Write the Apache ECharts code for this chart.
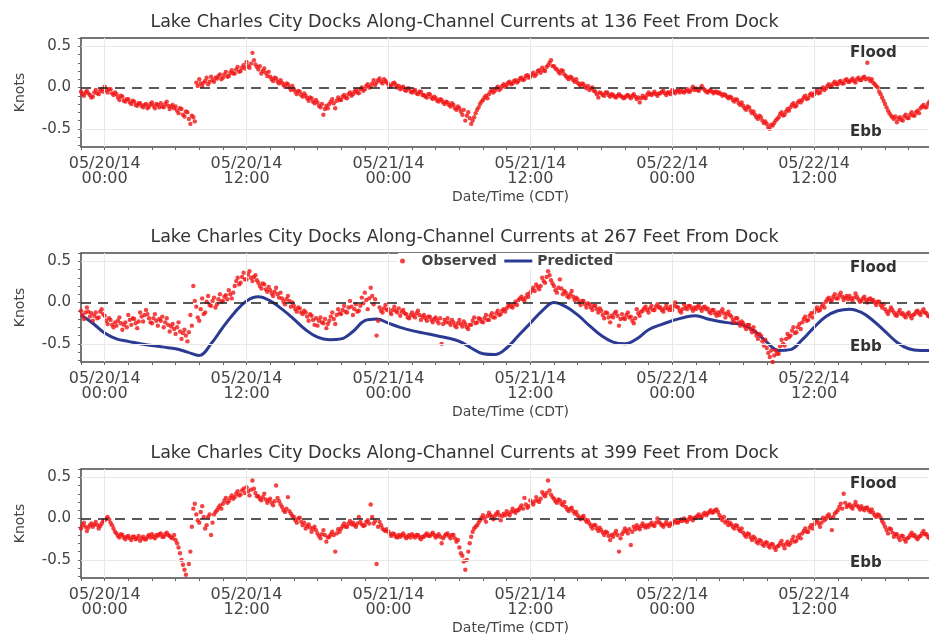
<!DOCTYPE html>
<html><head><meta charset="utf-8">
<script src="https://cdn.jsdelivr.net/npm/echarts@6/dist/echarts.min.js"></script>
<style>html,body{margin:0;padding:0;background:#fff}#c{width:929px;height:644px}</style>
</head><body><div id="c"></div>
<script>
// Panel titles
const titles = [
  'Lake Charles City Docks Along-Channel Currents at 136 Feet From Dock',
  'Lake Charles City Docks Along-Channel Currents at 267 Feet From Dock',
  'Lake Charles City Docks Along-Channel Currents at 399 Feet From Dock'
];
// X tick positions (hours from 05/20/14 00:00 CDT) and their labels
const tickHours = [0, 12, 24, 36, 48, 60];
const tickLabels = ['05/20/14\n00:00', '05/20/14\n12:00', '05/21/14\n00:00', '05/21/14\n12:00', '05/22/14\n00:00', '05/22/14\n12:00'];
const yTickValues = [-0.5, 0.0, 0.5];
const yTickLabels = ['-0.5', '0.0', '0.5'];
// Observations: 7.5-minute samples starting at 05/19/14 22:00 (hour -2), one row per hour
const obsStartHour = -2;
const obsStepHour = 0.125;
const obs136 = [
 -0.05,-0.08,-0.10,-0.06,-0.04,-0.07,-0.09,-0.12,
 -0.11,-0.06,-0.03,-0.07,-0.08,-0.04,-0.02,-0.05,
 0.01,-0.03,-0.06,-0.02,-0.02,-0.07,-0.09,-0.06,
 -0.08,-0.12,-0.15,-0.10,-0.11,-0.16,-0.17,-0.14,
 -0.14,-0.18,-0.20,-0.16,-0.17,-0.21,-0.22,-0.19,
 -0.19,-0.22,-0.24,-0.21,-0.20,-0.25,-0.23,-0.20,
 -0.18,-0.22,-0.25,-0.20,-0.21,-0.24,-0.19,-0.23,
 -0.24,-0.20,-0.17,-0.22,-0.26,-0.23,-0.21,-0.25,
 -0.23,-0.28,-0.31,-0.25,-0.26,-0.33,-0.35,-0.29,
 -0.30,-0.38,-0.44,-0.34,-0.36,-0.41,0.06,0.02,
 0.10,0.05,0.02,0.06,0.08,0.12,0.04,0.07,
 0.13,0.09,0.07,0.12,0.11,0.14,0.16,0.10,
 0.12,0.16,0.19,0.13,0.14,0.18,0.21,0.17,
 0.17,0.22,0.25,0.19,0.20,0.24,0.27,0.23,
 0.31,0.26,0.24,0.29,0.42,0.33,0.28,0.25,
 0.22,0.26,0.17,0.20,0.23,0.18,0.14,0.19,
 0.13,0.10,0.08,0.12,0.11,0.07,0.05,0.09,
 0.06,0.03,0.01,0.05,0.04,0.00,-0.03,0.02,
 -0.02,-0.05,-0.08,-0.04,-0.05,-0.09,-0.11,-0.07,
 -0.10,-0.13,-0.16,-0.12,-0.13,-0.17,-0.19,-0.15,
 -0.18,-0.22,-0.24,-0.20,-0.33,-0.26,-0.22,-0.25,
 -0.20,-0.17,-0.14,-0.19,-0.25,-0.16,-0.12,-0.15,
 -0.15,-0.11,-0.09,-0.12,-0.13,-0.08,-0.06,-0.10,
 -0.08,-0.05,-0.03,-0.06,-0.07,-0.02,0.00,-0.04,
 -0.02,0.02,0.04,0.00,0.01,0.05,0.09,0.03,
 0.06,0.09,0.11,0.07,0.05,0.10,0.08,0.06,
 0.04,0.01,0.02,0.05,0.06,0.03,0.00,0.02,
 -0.02,0.00,0.01,-0.03,-0.04,-0.01,-0.01,-0.05,
 -0.06,-0.04,-0.03,-0.07,-0.08,-0.05,-0.05,-0.09,
 -0.09,-0.11,-0.12,-0.08,-0.08,-0.12,-0.14,-0.11,
 -0.13,-0.16,-0.17,-0.14,-0.15,-0.18,-0.20,-0.17,
 -0.18,-0.21,-0.23,-0.19,-0.21,-0.25,-0.27,-0.23,
 -0.25,-0.29,-0.33,-0.27,-0.40,-0.34,-0.30,-0.37,
 -0.44,-0.40,-0.36,-0.31,-0.27,-0.24,-0.20,-0.17,
 -0.15,-0.12,-0.10,-0.13,-0.08,-0.05,-0.03,-0.06,
 -0.04,-0.01,0.01,-0.03,-0.01,0.02,0.04,0.01,
 0.03,0.06,0.07,0.04,0.05,0.08,0.09,0.06,
 0.08,0.11,0.12,0.09,0.10,0.14,0.15,0.12,
 0.13,0.16,0.18,0.14,0.16,0.20,0.21,0.18,
 0.24,0.21,0.20,0.25,0.27,0.30,0.33,0.26,
 0.26,0.23,0.22,0.19,0.17,0.21,0.20,0.16,
 0.14,0.12,0.10,0.13,0.12,0.09,0.07,0.10,
 0.06,0.04,0.02,0.05,0.04,0.01,-0.01,0.02,
 -0.03,-0.01,0.00,-0.04,-0.05,-0.08,-0.12,-0.06,
 -0.07,-0.09,-0.10,-0.06,-0.06,-0.09,-0.11,-0.08,
 -0.09,-0.11,-0.12,-0.10,-0.08,-0.10,-0.11,-0.13,
 -0.12,-0.10,-0.09,-0.11,-0.13,-0.10,-0.08,-0.11,
 -0.14,-0.12,-0.18,-0.13,-0.10,-0.12,-0.13,-0.09,
 -0.06,-0.08,-0.09,-0.07,-0.05,-0.08,-0.10,-0.07,
 -0.07,-0.05,-0.04,-0.07,-0.09,-0.06,-0.06,-0.08,
 -0.03,-0.05,-0.07,-0.04,-0.04,-0.06,-0.02,-0.05,
 -0.06,-0.04,-0.02,-0.05,-0.05,-0.02,0.01,-0.03,
 -0.01,-0.03,-0.04,-0.01,0.02,-0.01,-0.03,-0.05,
 -0.06,-0.04,-0.03,-0.05,-0.07,-0.05,-0.05,-0.07,
 -0.06,-0.08,-0.10,-0.08,-0.09,-0.11,-0.13,-0.11,
 -0.12,-0.15,-0.17,-0.14,-0.15,-0.19,-0.21,-0.18,
 -0.22,-0.25,-0.27,-0.23,-0.24,-0.28,-0.31,-0.29,
 -0.33,-0.36,-0.38,-0.34,-0.36,-0.40,-0.43,-0.41,
 -0.44,-0.48,-0.50,-0.45,-0.46,-0.43,-0.40,-0.38,
 -0.36,-0.32,-0.30,-0.34,-0.33,-0.29,-0.26,-0.28,
 -0.24,-0.21,-0.19,-0.23,-0.22,-0.18,-0.16,-0.18,
 -0.15,-0.12,-0.10,-0.14,-0.13,-0.09,-0.07,-0.10,
 -0.08,-0.05,-0.03,-0.07,-0.06,-0.02,0.00,-0.03,
 -0.01,0.02,0.04,0.01,0.02,0.05,0.07,0.04,
 0.04,0.07,0.08,0.05,0.05,0.09,0.10,0.07,
 0.07,0.09,0.11,0.08,0.06,0.10,0.12,0.09,
 0.09,0.12,0.13,0.10,0.30,0.11,0.08,0.10,
 0.06,0.04,0.02,0.00,-0.05,-0.08,-0.12,-0.16,
 -0.20,-0.24,-0.28,-0.31,-0.34,-0.36,-0.38,-0.35,
 -0.42,-0.38,-0.36,-0.39,-0.40,-0.35,-0.33,-0.37,
 -0.37,-0.33,-0.30,-0.34,-0.34,-0.30,-0.28,-0.31,
 -0.25,-0.23,-0.21,-0.24,-0.24,-0.20,-0.17,-0.19
];
const obs267 = [
 -0.10,-0.15,-0.20,-0.12,-0.06,-0.11,-0.17,-0.13,
 -0.22,-0.16,-0.12,-0.19,-0.18,-0.11,-0.08,-0.14,
 -0.16,-0.22,-0.26,-0.19,-0.21,-0.27,-0.30,-0.24,
 -0.28,-0.22,-0.18,-0.25,-0.33,-0.27,-0.24,-0.30,
 -0.15,-0.21,-0.27,-0.19,-0.20,-0.25,-0.31,-0.23,
 -0.12,-0.17,-0.23,-0.15,-0.09,-0.14,-0.19,-0.24,
 -0.25,-0.19,-0.14,-0.22,-0.28,-0.20,-0.22,-0.17,
 -0.30,-0.24,-0.19,-0.27,-0.35,-0.29,-0.26,-0.32,
 -0.38,-0.30,-0.24,-0.35,-0.44,-0.37,-0.33,-0.40,
 -0.47,-0.36,-0.15,-0.28,0.20,0.02,-0.05,-0.18,
 -0.22,-0.08,0.05,-0.14,-0.12,0.01,0.08,-0.03,
 -0.04,0.02,0.06,-0.06,-0.02,0.04,0.10,0.01,
 0.02,0.07,0.09,0.04,0.15,0.10,0.05,0.12,
 0.20,0.26,0.30,0.22,0.24,0.31,0.36,0.28,
 0.28,0.34,0.38,0.30,0.26,0.31,0.33,0.27,
 0.24,0.20,0.17,0.23,0.22,0.16,0.13,0.19,
 0.15,0.11,0.08,0.13,0.18,0.10,0.06,0.12,
 0.05,0.01,-0.02,0.04,0.08,0.02,-0.05,0.00,
 -0.04,-0.08,-0.11,-0.06,-0.07,-0.12,-0.14,-0.10,
 -0.12,-0.17,-0.22,-0.14,-0.16,-0.21,-0.27,-0.19,
 -0.28,-0.22,-0.18,-0.24,-0.25,-0.20,-0.31,-0.26,
 -0.22,-0.17,-0.12,-0.20,-0.26,-0.15,-0.08,-0.13,
 -0.14,-0.09,-0.04,-0.11,-0.12,-0.06,0.02,-0.05,
 -0.15,-0.08,-0.02,-0.11,-0.10,-0.04,0.06,-0.01,
 0.12,0.03,-0.08,0.05,0.18,0.08,-0.02,0.04,
 -0.40,-0.22,-0.06,-0.10,-0.12,-0.07,-0.03,-0.09,
 -0.08,-0.12,-0.14,-0.09,-0.05,-0.10,-0.12,-0.07,
 -0.16,-0.11,-0.09,-0.13,-0.14,-0.18,-0.19,-0.15,
 -0.12,-0.16,-0.18,-0.13,-0.10,-0.15,-0.21,-0.17,
 -0.15,-0.19,-0.22,-0.17,-0.17,-0.21,-0.24,-0.20,
 -0.18,-0.22,-0.25,-0.19,-0.50,-0.26,-0.21,-0.24,
 -0.19,-0.24,-0.27,-0.21,-0.24,-0.28,-0.30,-0.25,
 -0.21,-0.26,-0.29,-0.23,-0.26,-0.30,-0.32,-0.27,
 -0.27,-0.22,-0.18,-0.25,-0.24,-0.19,-0.20,-0.23,
 -0.24,-0.19,-0.15,-0.21,-0.21,-0.16,-0.13,-0.18,
 -0.18,-0.13,-0.10,-0.15,-0.14,-0.10,-0.08,-0.11,
 -0.07,-0.04,-0.02,-0.05,-0.06,-0.02,0.01,-0.03,
 0.03,0.05,0.07,0.04,0.02,0.06,0.10,0.07,
 0.12,0.15,0.18,0.14,0.22,0.19,0.16,0.20,
 0.30,0.26,0.24,0.31,0.38,0.33,0.27,0.23,
 0.20,0.15,0.12,0.18,0.28,0.17,0.10,0.14,
 0.12,0.08,0.06,0.10,0.14,0.07,0.03,0.06,
 0.04,0.00,-0.03,0.02,0.02,-0.02,-0.06,-0.01,
 -0.02,-0.06,-0.09,-0.04,-0.04,-0.08,-0.12,-0.07,
 -0.10,-0.15,-0.19,-0.12,-0.13,-0.18,-0.24,-0.16,
 -0.18,-0.13,-0.11,-0.16,-0.28,-0.20,-0.14,-0.19,
 -0.20,-0.15,-0.12,-0.18,-0.17,-0.22,-0.25,-0.19,
 -0.08,-0.13,-0.16,-0.11,-0.10,-0.07,-0.05,-0.09,
 -0.12,-0.07,-0.04,-0.09,-0.09,-0.05,-0.02,-0.06,
 -0.06,-0.09,-0.11,-0.07,-0.03,-0.07,-0.09,-0.05,
 -0.09,-0.04,0.00,-0.05,-0.06,-0.10,-0.12,-0.08,
 -0.02,-0.06,-0.08,-0.04,-0.04,-0.07,-0.10,-0.06,
 -0.08,-0.05,-0.03,-0.07,-0.10,-0.06,-0.05,-0.08,
 -0.07,-0.11,-0.13,-0.09,-0.09,-0.13,-0.16,-0.12,
 -0.15,-0.11,-0.08,-0.13,-0.18,-0.14,-0.11,-0.15,
 -0.17,-0.21,-0.24,-0.19,-0.19,-0.24,-0.28,-0.23,
 -0.25,-0.29,-0.32,-0.27,-0.27,-0.32,-0.36,-0.30,
 -0.35,-0.40,-0.44,-0.38,-0.40,-0.47,-0.52,-0.45,
 -0.55,-0.61,-0.66,-0.58,-0.72,-0.64,-0.58,-0.62,
 -0.62,-0.53,-0.45,-0.50,-0.52,-0.44,-0.38,-0.42,
 -0.40,-0.34,-0.30,-0.37,-0.36,-0.30,-0.26,-0.32,
 -0.24,-0.20,-0.17,-0.22,-0.21,-0.16,-0.13,-0.18,
 -0.12,-0.08,-0.06,-0.10,-0.09,-0.05,-0.02,-0.06,
 0.01,0.04,0.06,0.02,0.03,0.07,0.10,0.05,
 0.05,0.09,0.12,0.07,0.03,0.06,0.08,0.04,
 0.08,0.05,0.02,0.06,0.11,0.07,0.04,0.01,
 0.02,0.05,0.07,0.03,0.00,0.04,0.05,0.02,
 0.03,0.00,-0.03,0.01,0.01,-0.03,-0.06,-0.02,
 -0.08,-0.11,-0.14,-0.10,-0.06,-0.09,-0.12,-0.15,
 -0.16,-0.12,-0.09,-0.14,-0.13,-0.16,-0.18,-0.14,
 -0.12,-0.16,-0.19,-0.15,-0.14,-0.11,-0.10,-0.13,
 -0.15,-0.11,-0.08,-0.12,-0.13,-0.16,-0.17,-0.14
];
const obs399 = [
 -0.12,-0.08,-0.05,-0.10,-0.15,-0.11,-0.08,-0.06,
 -0.10,-0.07,-0.04,-0.08,-0.12,-0.09,-0.06,-0.03,
 -0.02,0.00,0.02,-0.01,-0.05,-0.08,-0.12,-0.16,
 -0.18,-0.21,-0.23,-0.19,-0.20,-0.23,-0.25,-0.22,
 -0.21,-0.24,-0.26,-0.22,-0.22,-0.25,-0.24,-0.21,
 -0.27,-0.24,-0.22,-0.25,-0.25,-0.22,-0.20,-0.23,
 -0.19,-0.22,-0.24,-0.20,-0.21,-0.19,-0.18,-0.22,
 -0.22,-0.19,-0.17,-0.20,-0.21,-0.23,-0.24,-0.20,
 -0.26,-0.30,-0.35,-0.42,-0.50,-0.56,-0.62,-0.68,
 -0.75,-0.55,-0.40,-0.10,0.12,0.18,0.05,-0.02,
 -0.05,0.08,0.15,0.02,-0.12,-0.08,0.02,0.05,
 -0.20,-0.05,0.05,0.08,0.10,0.13,0.16,0.12,
 0.18,0.22,0.25,0.19,0.21,0.25,0.28,0.24,
 0.26,0.30,0.33,0.28,0.29,0.34,0.36,0.31,
 0.38,0.33,0.28,0.35,0.46,0.36,0.31,0.27,
 0.27,0.24,0.22,0.26,0.30,0.23,0.19,0.22,
 0.24,0.19,0.16,0.21,0.40,0.25,0.21,0.17,
 0.14,0.10,0.08,0.12,0.26,0.09,0.06,0.03,
 0.02,-0.02,-0.05,0.00,0.01,-0.04,-0.08,-0.05,
 -0.12,-0.09,-0.07,-0.11,-0.16,-0.12,-0.10,-0.14,
 -0.18,-0.21,-0.24,-0.19,-0.14,-0.20,-0.28,-0.23,
 -0.22,-0.19,-0.16,-0.20,-0.40,-0.18,-0.13,-0.16,
 -0.12,-0.09,-0.06,-0.10,-0.10,-0.06,-0.03,-0.07,
 -0.05,-0.08,-0.10,-0.06,0.02,-0.04,-0.07,-0.09,
 -0.08,-0.04,-0.02,-0.06,0.17,0.02,-0.06,-0.03,
 -0.55,-0.10,-0.04,-0.08,-0.12,-0.14,-0.15,-0.13,
 -0.16,-0.19,-0.21,-0.18,-0.19,-0.22,-0.23,-0.20,
 -0.22,-0.20,-0.18,-0.21,-0.24,-0.22,-0.20,-0.23,
 -0.19,-0.21,-0.23,-0.20,-0.20,-0.23,-0.25,-0.22,
 -0.22,-0.20,-0.18,-0.21,-0.21,-0.19,-0.17,-0.20,
 -0.23,-0.21,-0.19,-0.22,-0.30,-0.24,-0.21,-0.19,
 -0.18,-0.21,-0.24,-0.20,-0.20,-0.24,-0.28,-0.26,
 -0.35,-0.42,-0.45,-0.52,-0.62,-0.50,-0.40,-0.30,
 -0.22,-0.16,-0.12,-0.10,-0.08,-0.05,-0.02,0.01,
 0.04,0.00,-0.04,0.03,0.07,0.04,0.02,-0.01,
 0.03,0.06,0.08,0.04,-0.02,0.03,0.06,0.04,
 0.09,0.06,0.04,0.08,0.12,0.09,0.07,0.10,
 0.10,0.13,0.16,0.12,0.25,0.17,0.13,0.15,
 0.22,0.19,0.17,0.21,0.26,0.22,0.20,0.24,
 0.32,0.29,0.27,0.31,0.46,0.34,0.29,0.26,
 0.24,0.21,0.19,0.23,0.22,0.18,0.16,0.20,
 0.14,0.11,0.09,0.12,0.13,0.09,0.06,0.08,
 0.04,0.01,-0.01,0.02,0.03,-0.01,-0.04,-0.02,
 -0.06,-0.09,-0.12,-0.08,-0.08,-0.12,-0.15,-0.11,
 -0.14,-0.17,-0.20,-0.16,-0.17,-0.21,-0.26,-0.20,
 -0.22,-0.18,-0.15,-0.20,-0.40,-0.24,-0.19,-0.16,
 -0.12,-0.15,-0.18,-0.13,-0.32,-0.16,-0.10,-0.13,
 -0.08,-0.11,-0.13,-0.09,-0.06,-0.09,-0.11,-0.08,
 -0.10,-0.07,-0.05,-0.08,-0.09,-0.05,0.00,-0.04,
 -0.06,-0.08,-0.10,-0.07,-0.04,-0.07,-0.09,-0.06,
 -0.07,-0.04,-0.02,-0.05,-0.05,-0.03,-0.01,-0.03,
 0.00,-0.02,-0.04,-0.01,0.02,0.00,-0.02,0.01,
 0.01,0.03,0.05,0.02,0.02,0.05,0.07,0.04,
 0.06,0.08,0.10,0.07,0.08,0.10,0.11,0.08,
 0.04,0.01,-0.02,0.02,-0.05,-0.03,-0.08,-0.05,
 -0.07,-0.10,-0.12,-0.08,-0.09,-0.13,-0.15,-0.12,
 -0.17,-0.20,-0.22,-0.18,-0.19,-0.23,-0.26,-0.22,
 -0.24,-0.28,-0.30,-0.26,-0.27,-0.31,-0.33,-0.29,
 -0.29,-0.33,-0.35,-0.31,-0.31,-0.35,-0.38,-0.34,
 -0.33,-0.30,-0.27,-0.32,-0.36,-0.31,-0.28,-0.32,
 -0.30,-0.26,-0.22,-0.28,-0.27,-0.23,-0.20,-0.24,
 -0.18,-0.15,-0.12,-0.16,-0.16,-0.11,-0.08,-0.12,
 -0.07,-0.04,-0.02,-0.06,-0.10,-0.05,0.01,-0.02,
 0.00,0.03,0.05,0.01,-0.14,0.02,0.06,0.08,
 0.10,0.14,0.18,0.12,0.30,0.19,0.14,0.16,
 0.17,0.14,0.12,0.16,0.20,0.16,0.14,0.11,
 0.15,0.12,0.10,0.13,0.13,0.10,0.08,0.11,
 0.07,0.04,0.02,0.05,0.04,0.01,-0.03,-0.06,
 -0.10,-0.14,-0.18,-0.12,-0.13,-0.17,-0.22,-0.19,
 -0.19,-0.23,-0.26,-0.21,-0.21,-0.25,-0.28,-0.24,
 -0.23,-0.20,-0.17,-0.21,-0.20,-0.23,-0.25,-0.22,
 -0.21,-0.18,-0.15,-0.19,-0.19,-0.22,-0.24,-0.20
];
// Predicted (267 ft): hourly values starting at hour -2
const predStartHour = -2;
const pred267 = [
 -0.15,-0.25,-0.37,-0.44,-0.47,-0.50,-0.52,-0.54,-0.56,-0.60,-0.64,-0.50,-0.30,-0.12,0.02,0.07,
 0.02,-0.08,-0.20,-0.33,-0.42,-0.45,-0.44,-0.35,-0.22,-0.20,-0.25,-0.30,-0.34,-0.37,-0.40,-0.43,
 -0.47,-0.55,-0.62,-0.63,-0.55,-0.40,-0.25,-0.10,0.00,-0.05,-0.15,-0.28,-0.40,-0.48,-0.50,-0.44,
 -0.33,-0.27,-0.22,-0.18,-0.16,-0.20,-0.23,-0.25,-0.27,-0.35,-0.48,-0.58,-0.57,-0.45,-0.30,-0.17,
 -0.10,-0.08,-0.12,-0.22,-0.35,-0.48,-0.56,-0.58,-0.58
];

const obsSets = [obs136, obs267, obs399];
const tops = [38, 253, 469];
const F = 'DejaVu Sans, sans-serif';
const xTickAll = [];
for (let h = -2; h <= 72; h += 2) xTickAll.push(h);
const yTickAll = [-0.7,-0.6,-0.5,-0.4,-0.3,-0.2,-0.1,0,0.1,0.2,0.3,0.4,0.5,0.6];

const grids = [], xAxes = [], yAxes = [], series = [], titleCmp = [], graphics = [];
tops.forEach((top, i) => {
  grids.push({left: 81, right: -27, top: top, height: 109, show: true, outerBoundsMode: 'none',
    containLabel: false,
    borderColor: '#4a4a4a', borderWidth: 1.5, backgroundColor: '#fff'});
  titleCmp.push({text: titles[i], left: 'center', top: top - 30,
    textStyle: {fontFamily: F, fontSize: 17.5, fontWeight: 'normal', color: '#333'}});
  xAxes.push({type: 'value', gridIndex: i, min: -2, max: 72,
    name: 'Date/Time (CDT)', nameLocation: 'middle', nameGap: 43,
    nameTextStyle: {fontFamily: F, fontSize: 14, color: '#444', align: 'center', padding: [0, 16, 0, 0]},
    axisLine: {show: false, onZero: false},
    axisTick: {show: true, customValues: xTickAll, length: 3, lineStyle: {color: '#666'}},
    axisLabel: {customValues: tickHours, fontFamily: F, fontSize: 16, color: '#444', lineHeight: 15, margin: 9,
      formatter: v => tickLabels[tickHours.indexOf(v)]},
    splitLine: {show: false}});
  yAxes.push({type: 'value', gridIndex: i, min: -0.72, max: 0.6,
    name: 'Knots', nameLocation: 'middle', nameGap: 54, nameRotate: 90,
    nameTextStyle: {fontFamily: F, fontSize: 14, color: '#444'},
    axisLine: {show: false, onZero: false},
    axisTick: {show: true, customValues: yTickAll, length: 3, lineStyle: {color: '#666'}},
    axisLabel: {customValues: yTickValues, fontFamily: F, fontSize: 15, color: '#444', margin: 10,
      formatter: v => yTickLabels[yTickValues.indexOf(Math.round(v * 10) / 10)]},
    splitLine: {show: false}});
  const grid = {lineStyle: {color: '#e8e8e8', width: 1, type: 'solid'}};
  series.push({type: 'scatter', name: 'Observed', xAxisIndex: i, yAxisIndex: i,
    symbolSize: 4.4, itemStyle: {color: '#f01414'}, z: 3,
    data: obsSets[i].map((v, k) => [obsStartHour + k * obsStepHour, v]),
    markLine: {silent: true, symbol: 'none', label: {show: false}, animation: false,
      data: [
        Object.assign({yAxis: 0.5}, grid), Object.assign({yAxis: -0.5}, grid),
        ...tickHours.map(h => Object.assign({xAxis: h}, grid)),
        {yAxis: 0, lineStyle: {color: '#222', width: 1.5, type: [10, 7]}}
      ]}});
  graphics.push({type: 'text', left: 850, top: top + 8, z: 100,
    style: {text: 'Flood', font: 'bold 15px DejaVu Sans', fill: '#333'}});
  graphics.push({type: 'text', left: 850, top: top + 87, z: 100,
    style: {text: 'Ebb', font: 'bold 15px DejaVu Sans', fill: '#333'}});
});
series.push({type: 'line', name: 'Predicted', xAxisIndex: 1, yAxisIndex: 1,
  smooth: 0.4, symbol: 'none', showSymbol: false, z: 2,
  lineStyle: {color: '#2b3a92', width: 3}, itemStyle: {color: '#2b3a92'},
  data: pred267.map((v, k) => [predStartHour + k, v])});

const chart = echarts.init(document.getElementById('c'), null, {renderer: 'canvas'});
chart.setOption({
  animation: false,
  backgroundColor: '#fff',
  title: titleCmp,
  grid: grids, xAxis: xAxes, yAxis: yAxes,
  legend: {left: 398, top: 253, z: 20, backgroundColor: '#fff', padding: [1, 2],
    itemGap: 6, itemWidth: 28, itemHeight: 5,
    textStyle: {fontFamily: F, fontSize: 14, fontWeight: 'bold', color: '#444'},
    data: [{name: 'Observed', icon: 'circle', itemStyle: {color: '#f01414'}},
           {name: 'Predicted', itemStyle: {opacity: 0}, lineStyle: {color: '#2b3a92', width: 3, opacity: 1}}]},
  graphic: graphics,
  series: series
});
</script></body></html>
